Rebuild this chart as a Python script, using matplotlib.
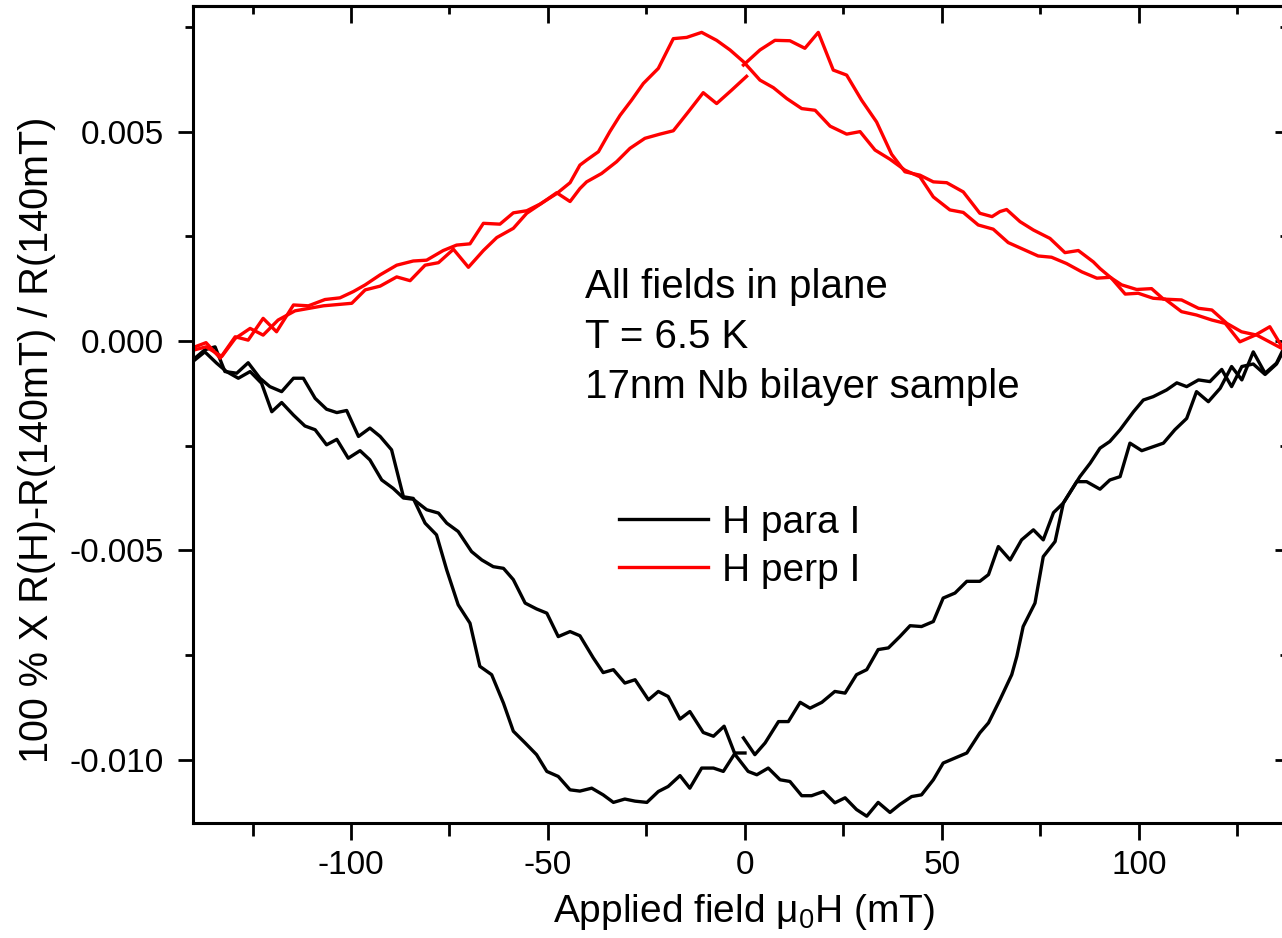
import matplotlib
matplotlib.use("Agg")
import matplotlib.pyplot as plt
from matplotlib.ticker import MultipleLocator, FormatStrFormatter, NullFormatter

plt.rcParams["font.family"] = ["Liberation Sans", "DejaVu Sans"]
plt.rcParams["mathtext.fontset"] = "custom"
plt.rcParams["mathtext.rm"] = "Liberation Sans"
plt.rcParams["axes.unicode_minus"] = False

# values below are read in units of 1e-3
SCALE = 1e-3

# H para I, sweep -140 -> +140 (continuous)
para_up_field = [-139.6, -137.1, -134.1, -131.6, -128.6, -125.6, -122.7, -120.1, -117.6, -114.6,
                 -111.7, -109.1, -106.2, -103.6, -100.7, -97.7, -95.2, -92.2, -89.3, -86.7,
                 -84.2, -80.8, -77.8, -75.7, -72.8, -69.4, -66.8, -63.9, -61.3, -58.8,
                 -55.8, -52.9, -50.3, -47.4, -44.4, -41.9, -38.5, -36.0, -33.4, -30.5,
                 -27.9, -24.5, -22.0, -19.5, -16.5, -14.0, -10.6, -8.0, -5.3, -2.5,
                 0.8, 3.0, 5.9, 8.9, 11.4, 14.4, 16.9, 19.9, 22.8, 25.4,
                 28.3, 30.9, 33.8, 36.8, 39.3, 42.3, 44.8, 47.8, 50.3, 53.3,
                 56.3, 59.6, 61.8, 64.7, 67.7, 69.0, 70.6, 73.6, 75.7, 78.7,
                 80.8, 85.0, 87.6, 90.1, 92.6, 95.2, 98.6, 101.1, 103.6, 107.0,
                 109.6, 112.1, 115.1, 118.0, 121.0, 123.5, 126.1, 129.0, 132.0, 134.9, 136.3]
para_up_val = [-0.45, -0.26, -0.53, -0.73, -0.89, -0.73, -1.01, -1.69, -1.47, -1.77,
               -2.03, -2.12, -2.48, -2.35, -2.80, -2.62, -2.84, -3.32, -3.52, -3.75,
               -3.78, -4.03, -4.11, -4.35, -4.55, -5.03, -5.23, -5.39, -5.43, -5.70,
               -6.26, -6.40, -6.50, -7.06, -6.94, -7.04, -7.57, -7.92, -7.85, -8.17,
               -8.09, -8.57, -8.37, -8.49, -9.03, -8.85, -9.35, -9.44, -9.20, -9.88,
               -10.28, -10.36, -10.20, -10.48, -10.52, -10.86, -10.86, -10.76, -11.03, -10.91,
               -11.19, -11.35, -11.02, -11.26, -11.07, -10.88, -10.84, -10.48, -10.08, -9.96,
               -9.84, -9.36, -9.12, -8.57, -7.97, -7.53, -6.82, -6.26, -5.15, -4.79,
               -3.87, -3.24, -2.92, -2.56, -2.40, -2.12, -1.69, -1.41, -1.33, -1.17,
               -1.00, -1.09, -0.93, -0.97, -0.68, -1.09, -0.61, -0.55, -0.80, -0.55, -0.30]

# H para I, sweep +140 -> 0
para_down_right_field = [-0.4, 2.5, 5.1, 8.5, 11.0, 14.0, 16.5, 19.5, 22.8, 25.4,
                         28.3, 30.9, 33.8, 36.4, 39.3, 41.9, 44.8, 47.8, 50.3, 53.3,
                         56.3, 59.6, 61.8, 64.3, 67.3, 70.2, 73.2, 75.7, 78.3, 80.8,
                         84.2, 86.7, 90.1, 92.6, 95.2, 97.7, 100.7, 106.2, 109.1, 112.1,
                         114.6, 117.6, 120.6, 123.5, 126.1, 129.0, 132.0, 134.9, 136.3]
para_down_right_val = [-9.48, -9.88, -9.60, -9.09, -9.09, -8.63, -8.77, -8.63, -8.37, -8.41,
                       -7.97, -7.85, -7.37, -7.33, -7.06, -6.80, -6.82, -6.70, -6.14, -6.02,
                       -5.74, -5.74, -5.58, -4.91, -5.23, -4.75, -4.51, -4.75, -4.10, -3.87,
                       -3.36, -3.36, -3.54, -3.32, -3.24, -2.44, -2.62, -2.44, -2.12, -1.85,
                       -1.21, -1.45, -1.13, -0.61, -0.93, -0.26, -0.77, -0.53, -0.26]

# H para I, sweep 0 -> -140
para_down_left_field = [0.0, -2.5, -5.5, -8.0, -11.0, -14.0, -16.5, -19.5, -22.0, -24.9,
                        -27.9, -30.5, -33.4, -36.0, -38.9, -41.9, -44.4, -47.4, -50.3, -52.9,
                        -55.8, -58.8, -61.3, -64.3, -67.3, -69.8, -72.8, -75.7, -78.3, -81.2,
                        -84.2, -86.7, -89.7, -92.6, -95.2, -98.1, -101.1, -103.6, -106.2, -109.1,
                        -112.1, -114.6, -117.6, -120.6, -123.1, -126.1, -129.0, -132.0, -134.5,
                        -137.1, -139.6]
para_down_left_val = [-9.84, -9.84, -10.28, -10.20, -10.20, -10.68, -10.38, -10.64, -10.76, -11.02,
                      -10.99, -10.94, -11.02, -10.84, -10.68, -10.75, -10.72, -10.40, -10.28, -9.88,
                      -9.60, -9.32, -8.65, -7.97, -7.77, -6.74, -6.30, -5.47, -4.63, -4.35,
                      -3.76, -3.72, -2.60, -2.28, -2.08, -2.28, -1.66, -1.71, -1.63, -1.37,
                      -0.89, -0.89, -1.21, -1.09, -0.89, -0.52, -0.77, -0.73, -0.14,
                      -0.21, -0.41]

# H perp I, sweep with peak at negative field (continuous)
perp_a_field = [-139.6, -136.8, -133.2, -129.4, -126.1, -122.3, -118.9, -114.6, -110.8, -106.6,
                -102.8, -99.4, -96.4, -92.6, -88.4, -84.2, -80.8, -76.6, -73.2, -69.8,
                -66.4, -62.2, -58.8, -55.4, -52.0, -47.8, -44.4, -41.9, -40.2, -37.2,
                -34.3, -31.7, -28.8, -25.8, -22.0, -18.2, -14.8, -11.0, -7.2, -3.8,
                -0.4, 3.8, 7.2, 10.6, 14.4, 17.8, 21.6, 25.8, 29.2, 33.0,
                36.8, 40.6, 44.4, 47.8, 52.0, 55.4, 59.2, 63.0, 66.8, 70.6,
                74.4, 77.8, 81.6, 85.5, 89.3, 92.7, 95.6, 99.4, 103.2, 106.2,
                110.8, 115.1, 118.5, 122.3, 126.0, 129.9, 136.3]
perp_a_val = [-0.14, -0.04, -0.41, 0.10, 0.02, 0.54, 0.22, 0.86, 0.84, 0.99,
              1.03, 1.18, 1.34, 1.58, 1.81, 1.91, 1.93, 2.16, 2.29, 2.32,
              2.81, 2.79, 3.06, 3.11, 3.27, 3.52, 3.78, 4.20, 4.32, 4.52,
              5.00, 5.39, 5.75, 6.15, 6.51, 7.22, 7.25, 7.37, 7.18, 6.95,
              6.67, 6.23, 6.05, 5.79, 5.55, 5.51, 5.13, 4.94, 5.00, 4.56,
              4.34, 4.08, 3.92, 3.44, 3.13, 3.07, 2.77, 2.67, 2.35, 2.19,
              2.03, 2.00, 1.85, 1.65, 1.50, 1.52, 1.34, 1.23, 1.25, 1.00,
              0.98, 0.78, 0.74, 0.42, 0.22, 0.14, -0.18]

# H perp I, other sweep, negative-field part (ends at 0)
perp_b_left_field = [-139.6, -136.8, -132.8, -129.4, -125.6, -122.3, -118.5, -114.2, -107.0, -99.8,
                     -96.4, -92.6, -88.4, -85.0, -81.2, -77.8, -74.0, -70.2, -66.4, -63.0,
                     -58.8, -55.4, -51.6, -47.8, -44.4, -41.9, -40.2, -36.4, -32.6, -29.2,
                     -25.4, -21.6, -18.2, -14.4, -10.6, -7.2, -3.4, 0.4]
perp_b_left_val = [-0.21, -0.14, -0.37, 0.06, 0.30, 0.14, 0.50, 0.72, 0.84, 0.90,
                   1.22, 1.31, 1.53, 1.44, 1.81, 1.87, 2.19, 1.76, 2.16, 2.47,
                   2.69, 3.05, 3.29, 3.54, 3.33, 3.64, 3.80, 4.00, 4.28, 4.60,
                   4.84, 4.94, 5.02, 5.47, 5.93, 5.67, 5.99, 6.32]

# H perp I, other sweep, positive-field part (peak at positive field)
perp_b_right_field = [-0.4, 3.8, 7.6, 11.4, 15.2, 18.6, 22.4, 25.8, 29.6, 33.4,
                      37.2, 40.6, 44.4, 47.8, 51.2, 55.4, 59.6, 62.7, 64.7, 66.4,
                      69.8, 73.2, 77.4, 81.2, 84.6, 88.4, 90.1, 93.0, 96.5, 99.8,
                      103.6, 106.6, 110.8, 114.6, 118.5, 121.9, 125.6, 129.5, 133.2, 136.3]
perp_b_right_val = [6.59, 6.95, 7.18, 7.17, 6.99, 7.37, 6.47, 6.35, 5.75, 5.23,
                    4.46, 4.04, 3.96, 3.80, 3.78, 3.56, 3.05, 2.97, 3.09, 3.14,
                    2.85, 2.65, 2.45, 2.11, 2.16, 1.89, 1.73, 1.50, 1.12, 1.14,
                    1.02, 1.00, 0.70, 0.62, 0.50, 0.42, -0.02, 0.14, 0.34, -0.14]

notes = ["All fields in plane", "T = 6.5 K", "17nm Nb bilayer sample"]


def scaled(vals):
    return [v * SCALE for v in vals]


W, H = 1282, 938
fig = plt.figure(figsize=(W / 100, H / 100), dpi=100)
ax = fig.add_axes([193.4 / W, 1 - 822.5 / H, 1103.2 / W, 816.5 / H])

lw = 2.4
ax.plot(para_up_field, scaled(para_up_val), color="black", lw=lw, label="H para I")
ax.plot(para_down_right_field, scaled(para_down_right_val), color="black", lw=lw)
ax.plot(para_down_left_field, scaled(para_down_left_val), color="black", lw=lw)
ax.plot(perp_a_field, scaled(perp_a_val), color="#ff0000", lw=lw, label="H perp I")
ax.plot(perp_b_left_field, scaled(perp_b_left_val), color="#ff0000", lw=lw)
ax.plot(perp_b_right_field, scaled(perp_b_right_val), color="#ff0000", lw=lw)

ax.set_xlim(-140, 140)
ax.set_ylim(-0.0115, 0.008)

for s in ax.spines.values():
    s.set_linewidth(2.2)

ax.xaxis.set_major_locator(MultipleLocator(50))
ax.xaxis.set_minor_locator(MultipleLocator(25))
ax.yaxis.set_major_locator(MultipleLocator(0.005))
ax.yaxis.set_minor_locator(MultipleLocator(0.0025))
ax.yaxis.set_major_formatter(FormatStrFormatter("%.3f"))
ax.tick_params(which="both", direction="out", width=2, labelsize=24,
               top=False, right=False)
ax.tick_params(axis="x", which="major", length=12, pad=8)
ax.tick_params(axis="x", which="minor", length=9)
ax.tick_params(axis="y", which="major", length=11, pad=10)
ax.tick_params(axis="y", which="minor", length=6)

# mirrored inward ticks on top and right
top = ax.secondary_xaxis("top")
top.xaxis.set_major_locator(MultipleLocator(50))
top.xaxis.set_minor_locator(MultipleLocator(25))
top.xaxis.set_major_formatter(NullFormatter())
top.tick_params(which="both", direction="in", width=2)
top.tick_params(which="major", length=12)
top.tick_params(which="minor", length=6)
top.spines["top"].set_linewidth(2.2)

right = ax.secondary_yaxis("right")
right.yaxis.set_major_locator(MultipleLocator(0.005))
right.yaxis.set_minor_locator(MultipleLocator(0.0025))
right.yaxis.set_major_formatter(NullFormatter())
right.tick_params(which="both", direction="in", width=2)
right.tick_params(which="major", length=16)
right.tick_params(which="minor", length=12)

fig.text(37 / W, 1 - 440 / H, "100 % X R(H)-R(140mT) / R(140mT)", rotation=90,
         ha="center", va="center", fontsize=28.5)
fig.text(744 / W, 1 - 912 / H, r"Applied field μ$_\mathregular{0}$H (mT)",
         ha="center", va="center", fontsize=28)

for i, line in enumerate(notes):
    fig.text(585 / W, 1 - (298 + 50 * i) / H, line, ha="left", va="baseline", fontsize=29)

ax.legend(loc="upper left", bbox_to_anchor=(619 / W, 1 - 505 / H),
          bbox_transform=fig.transFigure, frameon=False, fontsize=28,
          handlelength=2.3, handletextpad=0.35, labelspacing=0.3,
          borderpad=0, borderaxespad=0)

fig.savefig("out.png", dpi=100)
